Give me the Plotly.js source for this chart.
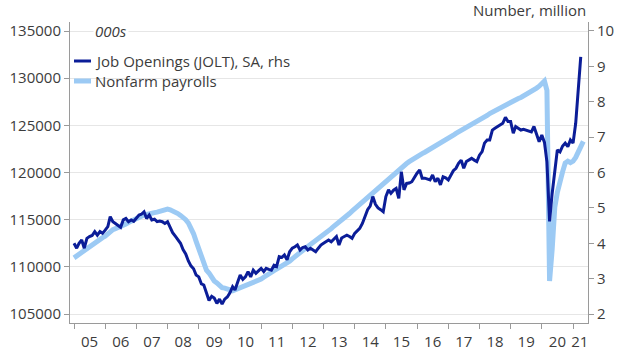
<!DOCTYPE html>
<html>
<head>
<meta charset="utf-8">
<script src="https://cdn.plot.ly/plotly-3.0.1.min.js"></script>
<style>html,body{margin:0;padding:0;background:#fff;}#chart{width:620px;height:351px;}</style>
</head>
<body>
<div id="chart"></div>
<script>
// Nonfarm payrolls, 000s (lhs), monthly from Jan 2005
const payrolls = [
110950,111150,111400,111650,111800,112000,112250,112400,112500,112700,112950,113100,
113250,113550,113800,113950,114050,114150,114300,114450,114550,114700,114850,115000,
115150,115250,115400,115500,115550,115650,115700,115750,115800,115900,115950,116050,
116130,116050,115950,115800,115650,115450,115250,115000,114650,114200,113500,112700,
111900,111150,110350,109650,109350,108900,108500,108300,108050,107800,107750,107600,
107550,107450,107550,107650,107750,107850,107950,108050,108150,108300,108400,108550,
108700,108900,109100,109300,109450,109600,109750,109900,110050,110250,110400,110600,
110850,111100,111350,111550,111750,111950,112150,112350,112550,112750,112950,113200,
113400,113600,113850,114050,114300,114500,114700,114950,115150,115400,115650,115900,
116150,116400,116650,116900,117150,117400,117650,117900,118150,118400,118650,118900,
119100,119350,119550,119800,120050,120250,120500,120700,120950,121150,121350,121550,
121700,121850,122000,122150,122300,122450,122650,122800,122950,123100,123250,123400,
123550,123750,123950,124150,124300,124450,124600,124750,124900,125050,125200,125350,
125500,125700,125850,126050,126250,126400,126600,126750,126950,127100,127250,127400,
127500,127600,127700,127850,127950,128100,128250,128400,128550,128750,128950,129150,
129400,129700,128700,108500,111800,116300,117900,119200,120100,121000,121200,121050,
121200,121600,122200,122700,123300
];
// Job openings (JOLT), SA, million (rhs), monthly from Jan 2005
const openings = [
4.00,3.86,4.00,4.09,3.86,4.14,4.19,4.22,4.33,4.23,4.33,4.28,
4.37,4.47,4.75,4.61,4.56,4.50,4.45,4.66,4.70,4.61,4.66,4.62,
4.70,4.80,4.82,4.89,4.70,4.80,4.66,4.68,4.61,4.63,4.61,4.56,
4.61,4.45,4.30,4.20,4.09,4.00,3.82,3.70,3.50,3.36,3.28,3.10,
3.05,2.85,2.82,2.60,2.38,2.50,2.45,2.30,2.42,2.28,2.42,2.48,
2.60,2.77,2.68,2.90,3.10,2.98,3.05,3.20,3.05,3.24,3.15,3.22,
3.29,3.20,3.29,3.26,3.24,3.38,3.34,3.62,3.60,3.67,3.53,3.76,
3.86,3.90,3.95,3.81,3.88,3.90,3.81,3.86,3.80,3.76,3.86,3.95,
4.00,4.04,4.09,4.04,4.12,4.19,3.95,4.15,4.19,4.23,4.19,4.14,
4.28,4.35,4.42,4.56,4.75,4.95,5.05,5.32,5.10,5.00,4.95,4.89,
5.32,5.51,5.41,5.50,5.55,5.27,6.02,5.51,5.69,5.70,5.74,5.88,
5.98,6.07,5.84,5.84,5.82,5.79,5.93,5.74,5.84,5.65,5.88,5.85,
5.79,5.93,6.05,6.12,6.26,6.35,6.12,6.31,6.35,6.40,6.35,6.31,
6.49,6.59,6.83,6.92,6.92,7.20,7.25,7.30,7.34,7.39,7.56,7.44,
7.44,7.11,7.30,7.25,7.20,7.22,7.20,7.18,7.15,7.30,7.06,6.87,
7.06,6.85,6.30,4.62,5.40,6.10,6.64,6.58,6.75,6.83,6.73,6.92,
6.83,7.39,8.33,9.27
];
const years = [2005,2006,2007,2008,2009,2010,2011,2012,2013,2014,2015,2016,2017,2018,2019,2020,2021];
const yearLabels = ['05','06','07','08','09','10','11','12','13','14','15','16','17','18','19','20','21'];
const leftTicks = [105000,110000,115000,120000,125000,130000,135000];
const rightTicks = [2,3,4,5,6,7,8,9,10];
const names = ['Job Openings (JOLT), SA, rhs','Nonfarm payrolls'];

function monthDate(i){const y=2005+Math.floor(i/12);const m=(i%12)+1;return y+'-'+(m<10?'0':'')+m+'-01';}
const datesP = payrolls.map((_,i)=>monthDate(i));
const datesO = openings.map((_,i)=>monthDate(i));

const navy = '#0b1d98';
const light = '#9ccaf4';
const xr = ['2004-11-15','2021-06-25'];
const tickYears = years.map(y=>y+'-01-01');
const labelPos = years.map(y=> y===2021 ? '2021-03-20' : y+'-07-02');

const traces = [
 {x:datesP,y:payrolls,type:'scatter',mode:'lines',name:names[1],line:{color:light,width:5},xaxis:'x',yaxis:'y',hoverinfo:'skip'},
 {x:datesO,y:openings,type:'scatter',mode:'lines',name:names[0],line:{color:navy,width:3},xaxis:'x',yaxis:'y2',hoverinfo:'skip'},
 {x:[],y:[],type:'scatter',mode:'lines',xaxis:'x2',yaxis:'y',showlegend:false,hoverinfo:'skip'}
];

const W=518,H=301,L=70,T=22;
function px(x){return (x-L)/W;}
function py(y){return (T+H-y)/H;}
const txt='#3c3c3c';
const layout = {
 width:620,height:351,
 margin:{l:70,r:32,t:22,b:28,pad:0},
 paper_bgcolor:'#fff',plot_bgcolor:'#fff',
 showlegend:false,
 font:{family:'Open Sans, sans-serif',size:15,color:txt},
 xaxis:{type:'date',range:xr,tickmode:'array',tickvals:tickYears,showticklabels:false,ticks:'outside',ticklen:5,tickcolor:'#9a9a9a',showline:true,linecolor:'#9a9a9a',linewidth:1,showgrid:false,zeroline:false,fixedrange:true},
 xaxis2:{type:'date',range:xr,overlaying:'x',anchor:'y',side:'bottom',tickmode:'array',tickvals:labelPos,ticktext:yearLabels,ticks:'outside',ticklen:5,tickcolor:'rgba(0,0,0,0)',showline:false,showgrid:false,zeroline:false,tickfont:{size:15,color:txt}},
 yaxis:{range:[104046,135954],tickmode:'array',tickvals:leftTicks,tickformat:'d',ticks:'outside',ticklen:5,tickcolor:'#9a9a9a',showline:true,linecolor:'#9a9a9a',showgrid:true,gridcolor:'#e6e6e6',gridwidth:1,zeroline:false,tickfont:{size:15,color:txt}},
 yaxis2:{range:[1.746,10.254],overlaying:'y',side:'right',anchor:'x',tickmode:'array',tickvals:rightTicks,ticks:'outside',ticklen:5,tickcolor:'#9a9a9a',showline:true,linecolor:'#9a9a9a',showgrid:false,zeroline:false,tickfont:{size:15,color:txt}},
 shapes:[
  {type:'line',xref:'paper',yref:'paper',x0:px(74),x1:px(91),y0:py(61),y1:py(61),line:{color:navy,width:3}},
  {type:'line',xref:'paper',yref:'paper',x0:px(74),x1:px(91),y0:py(81),y1:py(81),line:{color:light,width:5}}
 ],
 annotations:[
  {text:'000s',xref:'paper',yref:'paper',x:px(93),y:py(31),xanchor:'left',yanchor:'middle',showarrow:false,bgcolor:'#fff',font:{size:15,style:'italic',color:txt}},
  {text:'Number, million',xref:'paper',yref:'paper',x:1,y:py(10),xanchor:'right',yanchor:'middle',showarrow:false,font:{size:15,color:txt}},
  {text:names[0],xref:'paper',yref:'paper',x:px(93),y:py(61),xanchor:'left',yanchor:'middle',showarrow:false,font:{size:15,color:txt}},
  {text:names[1],xref:'paper',yref:'paper',x:px(93),y:py(81),xanchor:'left',yanchor:'middle',showarrow:false,font:{size:15,color:txt}}
 ]
};
Plotly.newPlot('chart',traces,layout,{staticPlot:true,displayModeBar:false});
</script>
</body>
</html>
